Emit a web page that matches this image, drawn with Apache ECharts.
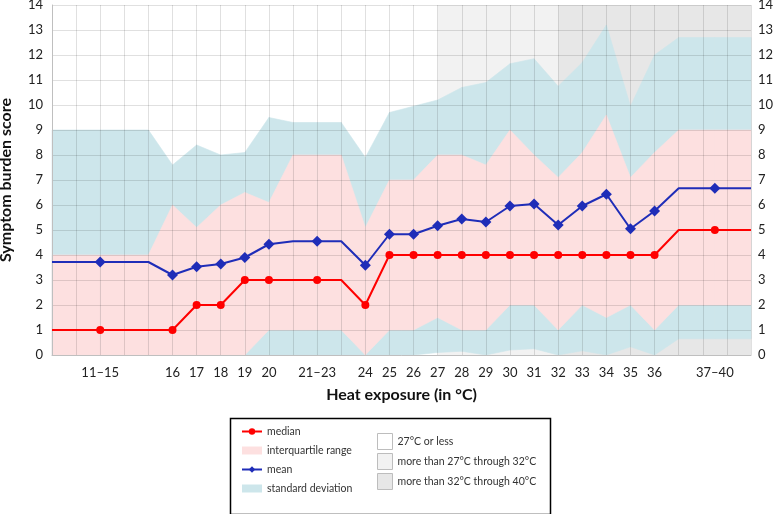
<!DOCTYPE html>
<html>
<head>
<meta charset="utf-8">
<script src="https://cdn.jsdelivr.net/npm/echarts@6/dist/echarts.min.js"></script>
<style>
  html, body { margin: 0; padding: 0; background: #fff; }
  #chart { width: 776px; height: 514px; }
</style>
</head>
<body>
<div id="chart"></div>
<script>
// groups of heat exposure (°C); some groups span several degrees
const groupLabels = ['11–15','16','17','18','19','20','21–23','24','25','26','27','28','29','30','31','32','33','34','35','36','37–40']
const groupFrom   = [11,16,17,18,19,20,21,24,25,26,27,28,29,30,31,32,33,34,35,36,37]
const groupTo     = [15,16,17,18,19,20,23,24,25,26,27,28,29,30,31,32,33,34,35,36,40]

const median  = [1,1,2,2,3,3,3,2,4,4,4,4,4,4,4,4,4,4,4,4,5]
const mean    = [3.72,3.2,3.53,3.64,3.9,4.43,4.55,3.59,4.83,4.83,5.17,5.44,5.32,5.96,6.04,5.2,5.96,6.43,5.05,5.76,6.67]
const iqrLow  = [0,0,0,0,0,1,1,0,1,1,1.5,1,1,2,2,1,2,1.5,2,1,2]
const iqrHigh = [4,6,5.1,6,6.5,6.1,8,5.1,7,7,8,8,7.6,9,8,7.1,8.1,9.6,7.1,8.1,9]
const sdLow   = [0,0,0,0,0,0,0,0,0,0,0.1,0.15,0,0.2,0.25,0,0.17,0,0.33,0,0.65]
const sdHigh  = [9,7.6,8.4,8.0,8.1,9.5,9.3,7.9,9.7,9.95,10.2,10.7,10.9,11.65,11.85,10.75,11.7,13.2,9.95,12.0,12.7]

const FONT = 'Lato'
const TXT = '#222'
const PINK = '#fde0e0'
const BLUE = '#cde6eb'

// x positions: start, middle (marker) and end of every group
function groupXs(i) {
  const a = groupFrom[i], b = groupTo[i]
  return a === b ? [a] : [a, (a + b) / 2, b]
}
function center(i) { return (groupFrom[i] + groupTo[i]) / 2 }

function lineData(values) {
  const out = []
  values.forEach((v, i) => {
    groupXs(i).forEach(x => {
      out.push(x === center(i) ? { value: [x, v] } : { value: [x, v], symbol: 'none' })
    })
  })
  return out
}
// band as segments [x0, lo0, hi0, x1, lo1, hi1]
function bandSegments(lo, hi) {
  const pts = []
  lo.forEach((v, i) => groupXs(i).forEach(x => pts.push([x, v, hi[i]])))
  const segs = []
  for (let j = 0; j < pts.length - 1; j++) segs.push(pts[j].concat(pts[j + 1]))
  return segs
}
function bandRender(color) {
  return function (params, api) {
    const a = api.coord([api.value(0), api.value(1)])
    const b = api.coord([api.value(0), api.value(2)])
    const c = api.coord([api.value(3), api.value(5)])
    const d = api.coord([api.value(3), api.value(4)])
    return {
      type: 'polygon',
      shape: { points: [a, b, c, d] },
      style: { fill: color, stroke: color, lineWidth: 0.6 }
    }
  }
}

const labelAt = {}
groupLabels.forEach((l, i) => { labelAt[center(i)] = l })

const chart = echarts.init(document.getElementById('chart'))
chart.setOption({
  animation: false,
  textStyle: { fontFamily: FONT },
  grid: { left: 52, right: 25, top: 5, bottom: 159, containLabel: false, outerBoundsMode: 'none' },
  xAxis: [
    {
      type: 'value', min: 11, max: 40, interval: 1, z: 3,
      axisLine: { show: true, lineStyle: { color: '#bfbfbf' } },
      axisTick: { show: false },
      axisLabel: { show: false },
      splitLine: { show: true, lineStyle: { color: 'rgba(0,0,0,0.12)' } },
      name: 'Heat exposure (in °C)', nameLocation: 'middle', nameGap: 32,
      nameTextStyle: { fontFamily: FONT, fontSize: 16, fontWeight: 'bold', color: '#111' }
    },
    {
      type: 'value', min: 11, max: 40, interval: 0.5, position: 'bottom',
      axisLine: { show: false }, axisTick: { show: false }, splitLine: { show: false },
      axisLabel: { formatter: v => labelAt[v] || '', margin: 11, fontSize: 13, color: TXT, fontFamily: FONT }
    }
  ],
  yAxis: [
    {
      type: 'value', min: 0, max: 14, interval: 1, z: 3,
      axisLine: { show: true, lineStyle: { color: '#bfbfbf' } },
      axisTick: { show: false },
      axisLabel: { fontSize: 13, color: TXT, margin: 9, fontFamily: FONT },
      splitLine: { show: true, lineStyle: { color: 'rgba(0,0,0,0.12)' } },
      name: 'Symptom burden score', nameLocation: 'middle', nameGap: 38,
      nameTextStyle: { fontFamily: FONT, fontSize: 16, fontWeight: 'bold', color: '#111' }
    },
    {
      type: 'value', min: 0, max: 14, interval: 1, position: 'right',
      axisLine: { show: false }, axisTick: { show: false }, splitLine: { show: false },
      axisLabel: { fontSize: 13, color: TXT, margin: 7, fontFamily: FONT }
    }
  ],
  legend: [
    {
      orient: 'vertical', left: 236, top: 421, itemWidth: 20, itemHeight: 8, itemGap: 8,
      textStyle: { fontSize: 10.5, color: '#333', fontFamily: FONT },
      data: [
        { name: 'median' },
        { name: 'interquartile range', icon: 'rect', itemStyle: { color: PINK } },
        { name: 'mean' },
        { name: 'standard deviation', icon: 'rect', itemStyle: { color: BLUE } }
      ]
    },
    {
      orient: 'vertical', left: 372, top: 428, itemWidth: 15, itemHeight: 16, itemGap: 3,
      textStyle: { fontSize: 10.5, color: '#333', fontFamily: FONT },
      data: [
        { name: '27°C or less', icon: 'rect', itemStyle: { color: '#ffffff', borderColor: '#bdbdbd', borderWidth: 1 } },
        { name: 'more than 27°C through 32°C', icon: 'rect', itemStyle: { color: '#f2f2f2', borderColor: '#bdbdbd', borderWidth: 1 } },
        { name: 'more than 32°C through 40°C', icon: 'rect', itemStyle: { color: '#e7e7e7', borderColor: '#bdbdbd', borderWidth: 1 } }
      ]
    }
  ],
  graphic: [
    {
      type: 'rect', left: 228, top: 416, z: 10,
      shape: { width: 320, height: 96 },
      style: { fill: 'none', stroke: '#000', lineWidth: 1.5 }
    }
  ],
  series: [
    {
      name: '27°C or less', type: 'line', data: [], z: 1,
      itemStyle: { color: '#ffffff' },
      markArea: {
        silent: true,
        data: [
          [{ xAxis: 27, itemStyle: { color: '#f2f2f2' } }, { xAxis: 32 }],
          [{ xAxis: 32, itemStyle: { color: '#e7e7e7' } }, { xAxis: 40 }]
        ]
      }
    },
    { name: 'more than 27°C through 32°C', type: 'line', data: [], itemStyle: { color: '#f2f2f2' } },
    { name: 'more than 32°C through 40°C', type: 'line', data: [], itemStyle: { color: '#e7e7e7' } },
    {
      name: 'standard deviation', type: 'custom', z: 2, silent: true,
      data: bandSegments(sdLow, sdHigh),
      encode: { x: [0, 3], y: [1, 2, 4, 5] },
      renderItem: bandRender(BLUE), itemStyle: { color: BLUE }
    },
    {
      name: 'interquartile range', type: 'custom', z: 2, silent: true,
      data: bandSegments(iqrLow, iqrHigh),
      encode: { x: [0, 3], y: [1, 2, 4, 5] },
      renderItem: bandRender(PINK), itemStyle: { color: PINK }
    },
    {
      name: 'median', type: 'line', data: lineData(median), z: 5,
      symbol: 'circle', symbolSize: 8,
      lineStyle: { color: '#ff0000', width: 2 }, itemStyle: { color: '#ff0000' }
    },
    {
      name: 'mean', type: 'line', data: lineData(mean), z: 6,
      symbol: 'diamond', symbolSize: 11,
      lineStyle: { color: '#1f2db8', width: 2 }, itemStyle: { color: '#1f2db8' }
    }
  ]
})
</script>
</body>
</html>
